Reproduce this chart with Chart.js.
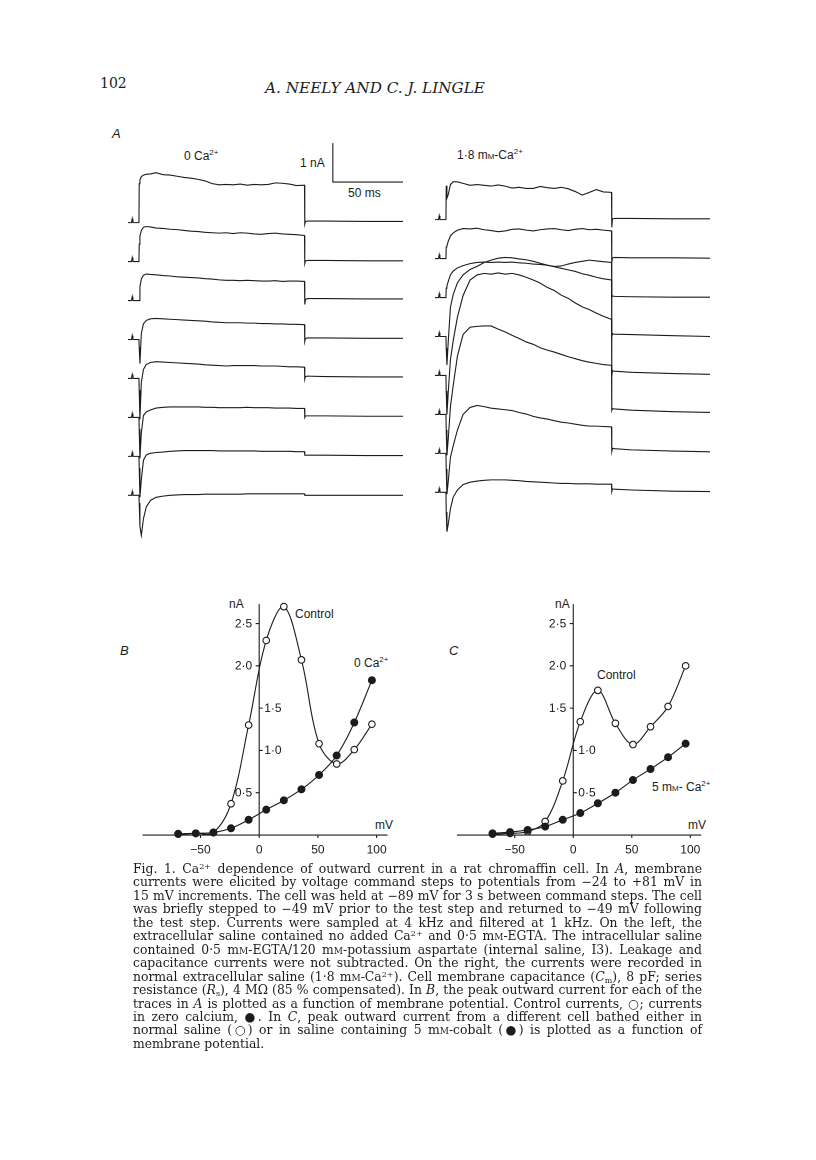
<!DOCTYPE html>
<html>
<head>
<meta charset="utf-8">
<script src="https://cdn.jsdelivr.net/npm/chart.js@4.4.1/dist/chart.umd.min.js"></script>
<style>
  html, body { margin:0; padding:0; background:#fff; }
  body { width:816px; height:1160px; position:relative; overflow:hidden; color:#1c1c1c; }
  canvas { position:absolute; }
  .lbl { position:absolute; font-family:"Liberation Sans", Arial, sans-serif; font-size:12px; line-height:14px; white-space:nowrap; color:#1c1c1c; }
  .lbl sup { font-size:8px; line-height:0; vertical-align:5px; }
  .sc { font-variant:small-caps; }
  .it { font-style:italic; }
  .hdr { position:absolute; font-family:"DejaVu Serif", "Liberation Serif", serif; white-space:nowrap; color:#1c1c1c; }
  #caption { position:absolute; left:133px; top:862px; width:569px; font-family:"DejaVu Serif", "Liberation Serif", serif; font-size:11.5px; line-height:13.46px; color:#1c1c1c; }
  #caption div { text-align:justify; text-align-last:justify; white-space:nowrap; height:13.46px; }
  #caption div.last { text-align-last:left; }
  #caption sup { font-size:0.65em; line-height:0; vertical-align:0.45em; }
  #caption sub { font-size:0.65em; line-height:0; vertical-align:-0.2em; }
</style>
</head>
<body>

<div class="hdr" style="left:100px; top:75px; font-size:14px;">102</div>
<div class="hdr" style="left:265px; top:79px; font-size:14.5px; font-style:italic;" id="runhead">A. NEELY AND C. J. LINGLE</div>

<div class="lbl it" style="left:112px; top:127px; font-size:13px;">A</div>
<div class="lbl" style="left:184px; top:149px;">0 Ca<sup>2+</sup></div>
<div class="lbl" style="left:300px; top:156px;">1 nA</div>
<div class="lbl" style="left:348px; top:186px;">50 ms</div>
<div class="lbl" style="left:457px; top:148px;">1·8 m<span class="sc">m</span>-Ca<sup>2+</sup></div>

<div class="lbl it" style="left:120px; top:644px; font-size:13px;">B</div>
<div class="lbl it" style="left:449px; top:644px; font-size:13px;">C</div>
<div class="lbl" style="left:229px; top:597px;">nA</div>
<div class="lbl" style="left:555px; top:597px;">nA</div>
<div class="lbl" style="left:295px; top:607px;">Control</div>
<div class="lbl" style="left:354px; top:656px;">0 Ca<sup>2+</sup></div>
<div class="lbl" style="left:375px; top:818px;">mV</div>
<div class="lbl" style="left:597px; top:668px;">Control</div>
<div class="lbl" style="left:652px; top:780px;">5 m<span class="sc">m</span>- Ca<sup>2+</sup></div>
<div class="lbl" style="left:688px; top:818px;">mV</div>

<canvas id="traceL" width="275" height="413" style="left:128px; top:133px; width:275px; height:413px;"></canvas>
<canvas id="traceR" width="275" height="413" style="left:435px; top:130px; width:275px; height:413px;"></canvas>
<canvas id="ivB" width="290" height="280" style="left:120px; top:590px; width:290px; height:280px;"></canvas>
<canvas id="ivC" width="290" height="280" style="left:435px; top:590px; width:290px; height:280px;"></canvas>

<div id="caption">
<div>Fig. 1. Ca<sup>2+</sup> dependence of outward current in a rat chromaffin cell. In <i>A</i>, membrane</div>
<div>currents were elicited by voltage command steps to potentials from −24 to +81 mV in</div>
<div>15 mV increments. The cell was held at −89 mV for 3 s between command steps. The cell</div>
<div>was briefly stepped to −49 mV prior to the test step and returned to −49 mV following</div>
<div>the test step. Currents were sampled at 4 kHz and filtered at 1 kHz. On the left, the</div>
<div>extracellular saline contained no added Ca<sup>2+</sup> and 0·5 m<span class="sc">m</span>-EGTA. The intracellular saline</div>
<div>contained 0·5 m<span class="sc">m</span>-EGTA/120 m<span class="sc">m</span>-potassium aspartate (internal saline, I3). Leakage and</div>
<div>capacitance currents were not subtracted. On the right, the currents were recorded in</div>
<div>normal extracellular saline (1·8 m<span class="sc">m</span>-Ca<sup>2+</sup>). Cell membrane capacitance (<i>C</i><sub>m</sub>), 8 pF; series</div>
<div>resistance (<i>R</i><sub>s</sub>), 4 MΩ (85 % compensated). In <i>B</i>, the peak outward current for each of the</div>
<div>traces in <i>A</i> is plotted as a function of membrane potential. Control currents, ○; currents</div>
<div>in zero calcium, ●. In <i>C</i>, peak outward current from a different cell bathed either in</div>
<div>normal saline (○) or in saline containing 5 m<span class="sc">m</span>-cobalt (●) is plotted as a function of</div>
<div class="last">membrane potential.</div>
</div>

<script>
// ---------------- DATA ----------------
// Panel A: time points (ms) shared by every current trace
const T = [0, 2.5, 3, 3.5, 7.8, 8, 8.5, 9.5, 11, 13, 16, 20, 25, 30, 35, 40, 45, 50, 55, 60, 65, 70, 75, 80, 85, 90, 95, 100, 105, 110, 115, 120, 125.8, 126, 126.5, 128, 140, 170, 196];

// Left column: 0 Ca2+ (current, nA, relative to holding level), command potential in name
const ca0_p81 = [0,0,0.1,0,0, 1.00,1.10,1.18,1.22,1.24,1.25, 1.28,1.23,1.22,1.19,1.16,1.14,1.11,1.07,1.00,0.97,0.98,0.97,0.99,0.96,0.98,0.97,0.98,1.02,1.01,0.99,0.95, 0.96, -0.04,0.03,0.04,0.04,0.03,0.03];
const ca0_p66 = [0,0,0.1,0,0, 0.45,0.65,0.80,0.88,0.90,0.89, 0.86,0.85,0.83,0.82,0.80,0.78,0.77,0.75,0.74,0.73,0.74,0.72,0.74,0.73,0.71,0.70,0.72,0.73,0.71,0.70,0.69, 0.67, -0.05,0.02,0.03,0.03,0.02,0.02];
const ca0_p51 = [0,0,0.1,0,0, 0.00,0.35,0.55,0.65,0.68,0.67, 0.66,0.64,0.63,0.61,0.60,0.59,0.58,0.56,0.55,0.53,0.52,0.52,0.51,0.52,0.51,0.50,0.50,0.51,0.49,0.50,0.50, 0.49, -0.10,0.03,0.05,0.05,0.04,0.04];
const ca0_p36 = [0,0,0.1,0,0, -0.20,-0.62,0.15,0.40,0.49,0.53, 0.54,0.53,0.52,0.51,0.50,0.49,0.48,0.47,0.45,0.44,0.43,0.43,0.43,0.42,0.42,0.41,0.41,0.40,0.40,0.39,0.39, 0.38, -0.05,0.03,0.04,0.04,0.03,0.03];
const ca0_p21 = [0,0,0.1,0,0, -0.30,-1.05,-0.10,0.23,0.36,0.41, 0.43,0.42,0.41,0.40,0.39,0.38,0.37,0.35,0.34,0.33,0.32,0.33,0.33,0.33,0.33,0.32,0.32,0.32,0.31,0.30,0.30, 0.29, -0.02,0.05,0.06,0.05,0.04,0.04];
const ca0_p6  = [0,0,0.1,0,0, -0.30,-1.05,-0.40,0.05,0.14,0.19, 0.24,0.26,0.27,0.27,0.27,0.27,0.27,0.26,0.26,0.25,0.25,0.25,0.25,0.26,0.25,0.25,0.25,0.24,0.24,0.24,0.23, 0.23, 0.00,0.04,0.04,0.04,0.03,0.03];
const ca0_m9  = [0,0,0.1,0,0, -0.30,-1.05,-0.60,-0.10,0.04,0.08, 0.10,0.11,0.13,0.14,0.15,0.15,0.15,0.15,0.15,0.14,0.14,0.14,0.14,0.14,0.14,0.13,0.13,0.13,0.13,0.13,0.12, 0.12, 0.03,0.03,0.03,0.03,0.02,0.02];
const ca0_m24 = [0,0,0.1,0,0, -0.20,-0.80,-1.03,-0.60,-0.30,-0.13, -0.05,-0.02,0.00,0.01,0.02,0.02,0.02,0.03,0.03,0.03,0.03,0.03,0.03,0.04,0.04,0.04,0.04,0.04,0.04,0.04,0.04, 0.04, 0.00,0.00,0.00,0.00,0.00,0.00];

// Right column: 1.8 mM-Ca2+
const ca18_p81 = [0,0,0.1,0,0, 0.87,0.55,0.65,0.90,0.97,0.97, 0.93,0.88,0.90,0.88,0.86,0.89,0.86,0.81,0.83,0.80,0.80,0.85,0.82,0.80,0.83,0.79,0.72,0.63,0.70,0.77,0.71, 0.70, -0.20,0.02,0.03,0.03,0.02,0.02];
const ca18_p66 = [0,0,0.1,0,0, 0.30,0.33,0.45,0.58,0.66,0.73, 0.77,0.76,0.78,0.74,0.72,0.69,0.71,0.75,0.76,0.73,0.71,0.74,0.76,0.77,0.74,0.72,0.75,0.77,0.74,0.75,0.73, 0.71, -0.10,0.02,0.03,0.02,0.02,0.01];
const ca18_p51 = [0,0,0.1,0,0, 0.24,0.30,0.42,0.58,0.68,0.76, 0.82,0.87,0.90,0.91,0.90,0.91,0.90,0.91,0.89,0.88,0.86,0.85,0.83,0.80,0.81,0.86,0.90,0.93,0.96,0.94,0.92, 0.90, 0.00,0.04,0.03,0.02,0.01,0.01];
const ca18_p36 = [0,0,0.1,0,0, -0.30,-0.73,-0.10,0.75,1.08,1.38, 1.58,1.72,1.80,1.90,1.96,2.01,2.03,2.02,1.99,1.97,1.93,1.88,1.83,1.79,1.75,1.71,1.67,1.61,1.57,1.52,1.48, 1.45, 0.00,0.07,0.06,0.05,0.02,0.00];
const ca18_p21 = [0,0,0.1,0,0, -0.40,-1.00,-0.40,0.40,0.90,1.50, 2.05,2.45,2.58,2.62,2.60,2.63,2.60,2.62,2.58,2.52,2.45,2.37,2.26,2.18,2.06,1.98,1.86,1.76,1.69,1.60,1.52, 1.44, 0.00,0.12,0.11,0.08,0.05,0.03];
const ca18_p6  = [0,0,0.1,0,0, -0.40,-1.05,-0.60,0.20,0.75,1.50, 2.05,2.24,2.26,2.27,2.27,2.19,2.12,2.03,1.95,1.86,1.80,1.71,1.65,1.60,1.54,1.48,1.43,1.38,1.34,1.31,1.28, 1.26, 0.10,0.15,0.14,0.11,0.07,0.05];
const ca18_m9  = [0,0,0.1,0,0, -0.40,-1.05,-0.70,-0.10,0.20,0.60, 1.00,1.18,1.23,1.20,1.16,1.14,1.12,1.10,1.05,1.01,0.95,0.91,0.88,0.84,0.80,0.78,0.75,0.72,0.70,0.70,0.69, 0.68, 0.05,0.13,0.12,0.09,0.06,0.04];
const ca18_m24 = [0,0,0.1,0,0, -0.50,-1.01,-0.80,-0.42,-0.12,0.06, 0.20,0.26,0.29,0.31,0.32,0.32,0.32,0.31,0.30,0.28,0.27,0.26,0.25,0.24,0.23,0.23,0.22,0.22,0.22,0.21,0.21, 0.21, 0.02,0.09,0.08,0.06,0.03,0.02];

// Scale bar values
const scaleBarNA = 1;
const scaleBarMs = 50;

// Panels B and C: membrane potential (mV) and peak outward current (nA)
const mV = [-69, -54, -39, -24, -9, 6, 21, 36, 51, 66, 81, 96];
const bControl = [0.01, 0.02, 0.03, 0.37, 1.30, 2.30, 2.70, 2.07, 1.08, 0.84, 1.01, 1.31];
const bZeroCa  = [0.015, 0.02, 0.03, 0.08, 0.18, 0.30, 0.41, 0.54, 0.71, 0.94, 1.33, 1.83];
const cControl = [0.01, 0.02, 0.04, 0.16, 0.64, 1.34, 1.71, 1.32, 1.07, 1.28, 1.52, 2.00];
const cCobalt  = [0.02, 0.035, 0.06, 0.10, 0.18, 0.26, 0.375, 0.50, 0.65, 0.78, 0.92, 1.08];

// Tick labels
const mvTicks = [-50, 0, 50, 100];
const mvTickLabels = ['−50', '0', '50', '100'];
const nATicks = [0.5, 1.0, 1.5, 2.0, 2.5];
const nATickLabels = ['0·5', '1·0', '1·5', '2·0', '2·5'];

// ---------------- LAYOUT / STYLE ----------------
const INK = '#1c1c1c';
const TRACE_ROW = 1;          // vertical spacing between stacked traces (nA)
const T_MIN = 0, T_MAX = 196;
const TRACE_Y_MIN = -8.3, TRACE_Y_MAX = 2.3;
const BAR_CORNER_T = T_MAX - scaleBarMs, BAR_CORNER_Y = 1.04;

const LABEL_SIDE_B = ['left', 'right', 'right', 'left', 'left'];
const LABEL_SIDE_C = ['right', 'right', 'left', 'left', 'left'];
const AXIS_X_FROM = -99.4, AXIS_X_TO = 109.3, AXIS_Y_TOP = 2.73;

// fit caption font so lines need only light justification
(function fitCaption() {
  const cap = document.getElementById('caption');
  const lines = Array.from(cap.querySelectorAll('div')).filter(d => !d.classList.contains('last'));
  const probe = document.createElement('span');
  probe.style.cssText = 'position:absolute;visibility:hidden;white-space:nowrap;font-family:inherit;';
  cap.appendChild(probe);
  let maxW = 0;
  lines.forEach(d => { probe.innerHTML = d.innerHTML; maxW = Math.max(maxW, probe.getBoundingClientRect().width); });
  cap.removeChild(probe);
  const base = parseFloat(getComputedStyle(cap).fontSize);
  cap.style.fontSize = (base * 566 / maxW).toFixed(2) + 'px';
  // running head width
  const rh = document.getElementById('runhead');
  const w = rh.getBoundingClientRect().width;
  rh.style.fontSize = (14.5 * 220 / w).toFixed(2) + 'px';
})();

function traceChart(id, series, withBar) {
  const datasets = series.map((vals, i) => ({
    data: T.map((t, k) => ({ x: t, y: vals[k] - i * TRACE_ROW })),
    borderColor: INK, borderWidth: 1.1, pointRadius: 0, tension: 0, fill: false
  }));
  if (withBar) {
    datasets.push({
      data: [
        { x: BAR_CORNER_T, y: BAR_CORNER_Y + scaleBarNA },
        { x: BAR_CORNER_T, y: BAR_CORNER_Y },
        { x: BAR_CORNER_T + scaleBarMs, y: BAR_CORNER_Y }
      ],
      borderColor: INK, borderWidth: 1.1, pointRadius: 0, tension: 0, fill: false
    });
  }
  new Chart(document.getElementById(id), {
    type: 'line',
    data: { datasets },
    options: {
      responsive: false, animation: false, devicePixelRatio: 2,
      layout: { padding: 0 },
      plugins: { legend: { display: false }, tooltip: { enabled: false } },
      scales: {
        x: { type: 'linear', min: T_MIN, max: T_MAX, display: false },
        y: { type: 'linear', min: TRACE_Y_MIN, max: TRACE_Y_MAX, display: false }
      }
    }
  });
}

traceChart('traceL', [ca0_p81, ca0_p66, ca0_p51, ca0_p36, ca0_p21, ca0_p6, ca0_m9, ca0_m24], true);
traceChart('traceR', [ca18_p81, ca18_p66, ca18_p51, ca18_p36, ca18_p21, ca18_p6, ca18_m9, ca18_m24], false);

const axesPlugin = {
  id: 'physAxes',
  beforeDatasetsDraw(chart, args, opts) {
    const { ctx } = chart;
    const xs = chart.scales.x, ys = chart.scales.y;
    const y0 = ys.getPixelForValue(0), x0 = xs.getPixelForValue(0);
    ctx.save();
    ctx.strokeStyle = INK; ctx.fillStyle = INK; ctx.lineWidth = 1.1;
    ctx.beginPath();
    ctx.moveTo(xs.getPixelForValue(AXIS_X_FROM), y0);
    ctx.lineTo(xs.getPixelForValue(AXIS_X_TO), y0);
    ctx.moveTo(x0, y0);
    ctx.lineTo(x0, ys.getPixelForValue(AXIS_Y_TOP));
    mvTicks.forEach(v => { const p = xs.getPixelForValue(v); ctx.moveTo(p, y0); ctx.lineTo(p, y0 + 3); });
    nATicks.forEach((v, i) => {
      const p = ys.getPixelForValue(v);
      const s = opts.sides[i] === 'left' ? -1 : 1;
      ctx.moveTo(x0, p); ctx.lineTo(x0 + s * 3.5, p);
    });
    ctx.stroke();
    ctx.font = '12px "Liberation Sans", Arial, sans-serif';
    ctx.textBaseline = 'middle';
    ctx.textAlign = 'center';
    mvTicks.forEach((v, i) => ctx.fillText(mvTickLabels[i], xs.getPixelForValue(v), y0 + 15));
    nATicks.forEach((v, i) => {
      const p = ys.getPixelForValue(v);
      if (opts.sides[i] === 'left') { ctx.textAlign = 'right'; ctx.fillText(nATickLabels[i], x0 - 7, p + 0.5); }
      else { ctx.textAlign = 'left'; ctx.fillText(nATickLabels[i], x0 + 5, p + 0.5); }
    });
    ctx.restore();
  }
};

function ivChart(id, openVals, filledVals, xMin, xMax, sides) {
  new Chart(document.getElementById(id), {
    type: 'line',
    data: {
      datasets: [
        { data: mV.map((v, i) => ({ x: v, y: filledVals[i] })), borderColor: INK, borderWidth: 1.1,
          pointRadius: 3.5, pointBackgroundColor: INK, pointBorderColor: INK, pointBorderWidth: 1, tension: 0.35, fill: false },
        { data: mV.map((v, i) => ({ x: v, y: openVals[i] })), borderColor: INK, borderWidth: 1.1,
          pointRadius: 3.3, pointBackgroundColor: '#fff', pointBorderColor: INK, pointBorderWidth: 1.1, tension: 0.35, fill: false }
      ]
    },
    options: {
      responsive: false, animation: false, devicePixelRatio: 2,
      layout: { padding: 0 },
      plugins: { legend: { display: false }, tooltip: { enabled: false }, physAxes: { sides } },
      scales: {
        x: { type: 'linear', min: xMin, max: xMax, display: false },
        y: { type: 'linear', min: -0.353, max: 2.836, display: false }
      }
    },
    plugins: [axesPlugin]
  });
}

ivChart('ivB', bControl, bZeroCa, -114.2, 124.1, LABEL_SIDE_B);
ivChart('ivC', cControl, cCobalt, -113.8, 125.3, LABEL_SIDE_C);
</script>
</body>
</html>
